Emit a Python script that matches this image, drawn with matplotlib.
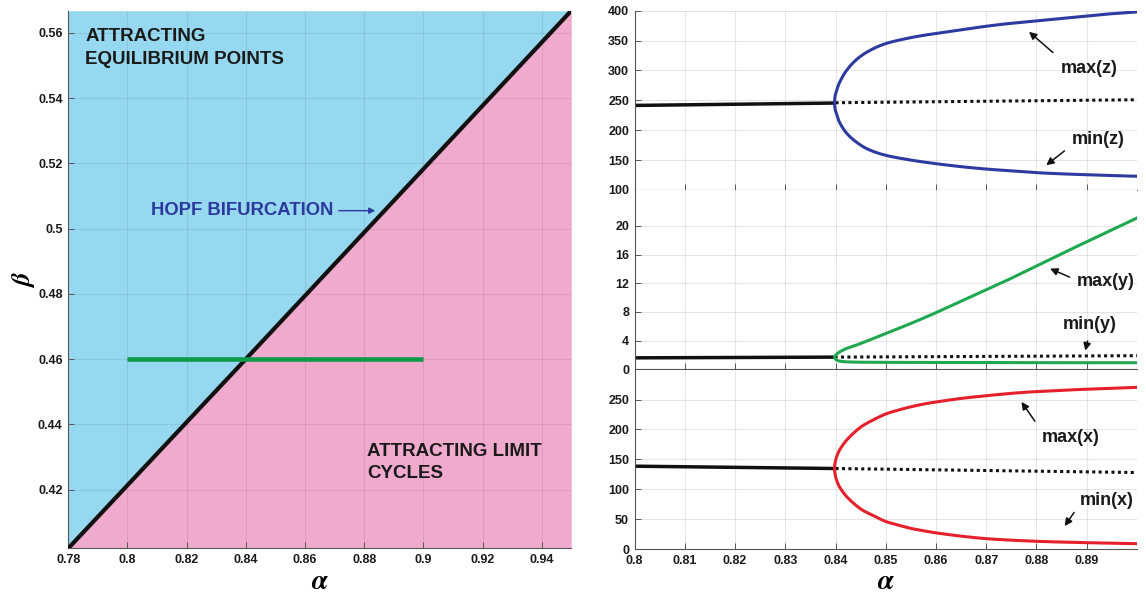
import numpy as np
import matplotlib
matplotlib.use("Agg")
import matplotlib.pyplot as plt

plt.rcParams["font.family"] = ["Liberation Sans", "DejaVu Sans"]
plt.rcParams["font.weight"] = "bold"
plt.rcParams["mathtext.fontset"] = "stix"

# ---- left: two-parameter plane (alpha, beta) ----
alpha_lim = [0.78, 0.95]
beta_lim = [0.402, 0.5668]
hopf_alpha = [0.78, 0.84, 0.95]
hopf_beta = [0.402, 0.46, 0.5668]
sweep_alpha = [0.80, 0.90]
sweep_beta = [0.46, 0.46]
plane_xticks = [0.78, 0.80, 0.82, 0.84, 0.86, 0.88, 0.90, 0.92, 0.94]
plane_xticklabels = ["0.78", "0.8", "0.82", "0.84", "0.86", "0.88", "0.9", "0.92", "0.94"]
plane_yticks = [0.42, 0.44, 0.46, 0.48, 0.50, 0.52, 0.54, 0.56]
plane_yticklabels = ["0.42", "0.44", "0.46", "0.48", "0.5", "0.52", "0.54", "0.56"]

# ---- right: bifurcation diagrams along beta = 0.46 ----
sweep_lim = [0.80, 0.90]
sweep_ticks = [0.80, 0.81, 0.82, 0.83, 0.84, 0.85, 0.86, 0.87, 0.88, 0.89]
sweep_ticklabels = ["0.8", "0.81", "0.82", "0.83", "0.84", "0.85", "0.86", "0.87", "0.88", "0.89"]

# z
z_eq_alpha = [0.80, 0.84]
z_eq = [241.5, 245.5]
z_unstable_alpha = [0.84, 0.90]
z_unstable = [246.0, 251.0]
z_branch_alpha = [0.8398, 0.8399, 0.8402, 0.8408, 0.8421, 0.8440, 0.8465, 0.850, 0.855,
                  0.860, 0.865, 0.870, 0.875, 0.880, 0.885, 0.890, 0.895, 0.900]
z_max = [246, 257, 266, 280, 299, 317, 332, 345, 355, 362, 368, 374, 379, 383, 387, 391, 395, 398]
z_min = [246, 236, 227, 213, 196, 181, 168, 158, 150, 144, 139, 135, 132, 129, 127, 125.5, 124, 123]

# y
y_eq_alpha = [0.80, 0.8398]
y_eq = [1.6, 1.7]
y_unstable_alpha = [0.8398, 0.90]
y_unstable = [1.7, 1.9]
y_branch_alpha = [0.8398, 0.8402, 0.841, 0.8425, 0.845, 0.850, 0.855, 0.860, 0.865,
                  0.870, 0.875, 0.880, 0.885, 0.890, 0.895, 0.900]
y_max = [1.7, 2.1, 2.5, 3.0, 3.6, 5.0, 6.4, 7.9, 9.5, 11.1, 12.7, 14.4, 16.1, 17.8, 19.45, 21.1]
y_min = [1.7, 1.3, 1.12, 1.03, 0.99, 0.97, 0.96, 0.95, 0.945, 0.94, 0.935, 0.93, 0.925, 0.92, 0.92, 0.92]

# x
x_eq_alpha = [0.80, 0.84]
x_eq = [138.6, 134.7]
x_unstable_alpha = [0.84, 0.90]
x_unstable = [134.7, 128.0]
x_branch_alpha = [0.8398, 0.8399, 0.8403, 0.841, 0.8425, 0.845, 0.8475, 0.850, 0.8525,
                  0.855, 0.8575, 0.860, 0.865, 0.870, 0.875, 0.880, 0.885, 0.890, 0.895, 0.900]
x_max = [134.7, 144.5, 156.5, 168.5, 185, 204, 216, 226, 232.5, 238, 242.5, 246, 252,
         256.5, 260.5, 263.5, 265.5, 267.5, 269, 270.5]
x_min = [134.7, 125, 113, 101, 85, 67, 56, 46, 40, 34.5, 30.5, 27, 21.5, 17.3, 14.8, 12.9,
         11.6, 10.6, 9.7, 8.9]

BLUE_FILL = "#95d8ef"
PINK_FILL = "#f0aacd"
GREEN_SWEEP = "#0f9a4a"
HOPF_BLUE = "#2b3a9c"
Z_BLUE = "#2d3a9f"
Y_GREEN = "#1fa84f"
X_RED = "#e3202b"
SPINE = "#555555"
TEXT = "#1a1a1a"

fig = plt.figure(figsize=(11.46, 5.95), dpi=100)


def style_axis(ax):
    for side in ("top", "right"):
        ax.spines[side].set_visible(False)
    for side in ("left", "bottom"):
        ax.spines[side].set_color(SPINE)
        ax.spines[side].set_linewidth(0.8)
    ax.tick_params(direction="in", length=4, width=0.7, color=SPINE,
                   labelsize=9, labelcolor=TEXT, pad=4)
    for lab in ax.get_xticklabels() + ax.get_yticklabels():
        lab.set_fontweight("bold")


def smooth_path(xs, ys, n=10):
    # Catmull-Rom through the listed points, just for a smooth stroke
    pts = np.column_stack([xs, ys]).astype(float)
    P = np.vstack([pts[0], pts, pts[-1]])
    t = np.linspace(0, 1, n, endpoint=False)[:, None]
    out = []
    for i in range(1, len(P) - 2):
        p0, p1, p2, p3 = P[i - 1], P[i], P[i + 1], P[i + 2]
        out.append(0.5 * (2 * p1 + (p2 - p0) * t + (2 * p0 - 5 * p1 + 4 * p2 - p3) * t ** 2
                          + (3 * p1 - p0 - 3 * p2 + p3) * t ** 3))
    out.append(P[-2][None])
    seg = np.vstack(out)
    return seg[:, 0], seg[:, 1]


# left panel
ax = fig.add_axes([0.0596, 0.0785, 0.4389, 0.9035])
ax.fill_between(hopf_alpha, hopf_beta, beta_lim[1], color=BLUE_FILL, lw=0, zorder=1)
ax.fill_between(hopf_alpha, beta_lim[0], hopf_beta, color=PINK_FILL, lw=0, zorder=1)
ax.plot(hopf_alpha, hopf_beta, color="#111111", lw=3.0, zorder=3, solid_capstyle="butt")
ax.plot(sweep_alpha, sweep_beta, color=GREEN_SWEEP, lw=3.3, zorder=4, solid_capstyle="butt")
ax.set_xlim(alpha_lim)
ax.set_ylim(beta_lim)
ax.set_xticks(plane_xticks, plane_xticklabels)
ax.set_yticks(plane_yticks, plane_yticklabels)
ax.set_axisbelow("line")
ax.grid(True, color="#000000", alpha=0.08, lw=0.8)
style_axis(ax)
ax.set_xlabel(r"$\alpha$", fontsize=20, labelpad=2)
ax.set_ylabel(r"$\beta$", fontsize=19, labelpad=1)

ax.text(0.7858, 0.5614, "ATTRACTING\nEQUILIBRIUM POINTS", fontsize=13.5, fontweight="bold",
        color=TEXT, ha="left", va="top", linespacing=1.45, zorder=5)
ax.text(0.8811, 0.4344, "ATTRACTING LIMIT\nCYCLES", fontsize=13.5, fontweight="bold",
        color=TEXT, ha="left", va="top", linespacing=1.45, zorder=5)
ax.text(0.8078, 0.5055, "HOPF BIFURCATION", fontsize=13.3, fontweight="bold",
        color=HOPF_BLUE, ha="left", va="center", zorder=5)
ax.annotate("", xy=(0.8847, 0.5055), xytext=(0.8705, 0.5055),
            arrowprops=dict(arrowstyle="-|>", color=HOPF_BLUE, lw=1.0, mutation_scale=9),
            zorder=5)


def branch(ax, alpha, hi, lo, color):
    a = np.asarray(alpha, dtype=float)
    xs = np.concatenate([a[::-1], a[1:]])
    ys = np.concatenate([np.asarray(hi, dtype=float)[::-1], np.asarray(lo, dtype=float)[1:]])
    sx, sy = smooth_path(xs, ys)
    ax.plot(sx, sy, color=color, lw=2.2, zorder=3)


def equilibrium(ax, a_s, v_s, a_u, v_u):
    ax.plot(a_s, v_s, color="#111111", lw=2.5, zorder=2, solid_capstyle="butt")
    ax.plot(a_u, v_u, color="#111111", lw=2.2, ls=(0, (1, 1.1)), dash_capstyle="butt", zorder=2)


def arrow(ax, head, tail):
    ax.annotate("", xy=head, xytext=tail,
                arrowprops=dict(arrowstyle="-|>", color="#111111", lw=1.1, mutation_scale=11),
                zorder=5)


panel_h = 0.3013
left, width = 0.5538, 0.4383
ax_z = fig.add_axes([left, 0.6807, width, panel_h])
ax_y = fig.add_axes([left, 0.3793, width, panel_h])
ax_x = fig.add_axes([left, 0.0773, width, panel_h])

for a in (ax_z, ax_y, ax_x):
    a.set_xlim(sweep_lim)
    a.set_xticks(sweep_ticks, sweep_ticklabels)
    a.grid(True, color="#000000", alpha=0.1, lw=0.8)
    a.set_axisbelow(True)

# z panel
equilibrium(ax_z, z_eq_alpha, z_eq, z_unstable_alpha, z_unstable)
branch(ax_z, z_branch_alpha, z_max, z_min, Z_BLUE)
ax_z.set_ylim(100, 400)
ax_z.set_yticks([100, 150, 200, 250, 300, 350, 400])
ax_z.tick_params(labelbottom=False)
ax_z.text(0.8904, 303.5, "max(z)", fontsize=13, fontweight="bold", color=TEXT, ha="center", va="center")
ax_z.text(0.8922, 184.5, "min(z)", fontsize=13, fontweight="bold", color=TEXT, ha="center", va="center")
arrow(ax_z, (0.8781, 367.7), (0.8837, 326.9))
arrow(ax_z, (0.8815, 138.6), (0.8860, 168.2))

# y panel
equilibrium(ax_y, y_eq_alpha, y_eq, y_unstable_alpha, y_unstable)
branch(ax_y, y_branch_alpha, y_max, y_min, Y_GREEN)
ax_y.set_ylim(0, 25)
ax_y.set_yticks([0, 4, 8, 12, 16, 20])
ax_y.tick_params(labelbottom=False)
ax_y.text(0.8937, 12.3, "max(y)", fontsize=13, fontweight="bold", color=TEXT, ha="center", va="center")
ax_y.text(0.8905, 6.27, "min(y)", fontsize=13, fontweight="bold", color=TEXT, ha="center", va="center")
arrow(ax_y, (0.8822, 14.2), (0.8871, 12.7))
arrow(ax_y, (0.8896, 2.23), (0.8903, 4.33))

# x panel
equilibrium(ax_x, x_eq_alpha, x_eq, x_unstable_alpha, x_unstable)
branch(ax_x, x_branch_alpha, x_max, x_min, X_RED)
ax_x.set_ylim(0, 300)
ax_x.set_yticks([0, 50, 100, 150, 200, 250])
ax_x.text(0.8868, 185.8, "max(x)", fontsize=13, fontweight="bold", color=TEXT, ha="center", va="center")
ax_x.text(0.8940, 81.8, "min(x)", fontsize=13, fontweight="bold", color=TEXT, ha="center", va="center")
arrow(ax_x, (0.8767, 250.0), (0.8800, 210.0))
arrow(ax_x, (0.8853, 34.5), (0.8878, 65.0))
ax_x.set_xlabel(r"$\alpha$", fontsize=20, labelpad=2)

for a in (ax_z, ax_y, ax_x):
    style_axis(a)

fig.savefig("out.png", dpi=100)
